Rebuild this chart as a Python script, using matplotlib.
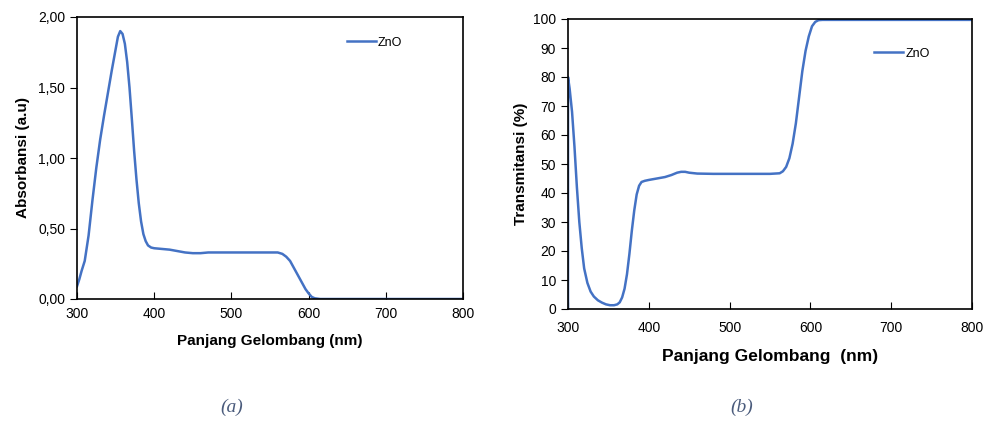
import numpy as np
import matplotlib.pyplot as plt
from matplotlib.ticker import FuncFormatter

# absorbansi ZnO
wl_abs = [300, 303, 306, 310, 315, 320, 325, 330, 335, 340, 345, 350, 353, 356,
          359, 362, 365, 368, 371, 374, 377, 380, 383, 386, 389, 392, 396, 400,
          410, 420, 430, 440, 450, 460, 470, 500, 550, 560, 566, 571, 576, 581,
          586, 591, 596, 600, 604, 608, 615, 700, 800]
absorb = [0.09, 0.14, 0.20, 0.27, 0.45, 0.70, 0.93, 1.13, 1.30, 1.46, 1.62, 1.77,
          1.86, 1.90, 1.88, 1.81, 1.68, 1.50, 1.28, 1.05, 0.85, 0.68, 0.55, 0.46,
          0.41, 0.38, 0.365, 0.36, 0.355, 0.35, 0.34, 0.33, 0.325, 0.325, 0.33,
          0.33, 0.33, 0.33, 0.32, 0.30, 0.27, 0.22, 0.17, 0.12, 0.07, 0.04, 0.015,
          0.005, 0.0, 0.0, 0.0]

# transmitansi ZnO
wl_tr = [300, 300, 302, 305, 308, 311, 314, 317, 320, 324, 328, 332, 337, 342,
         347, 352, 357, 361, 364, 367, 370, 373, 376, 379, 382, 385, 388, 391,
         395, 400, 410, 420, 428, 435, 440, 445, 450, 460, 480, 500, 550, 562,
         566, 570, 574, 578, 582, 586, 590, 594, 598, 602, 606, 610, 615, 700, 800]
trans = [0, 80, 76, 68, 56, 42, 30, 21, 14, 9, 6, 4.3, 3, 2.2, 1.6, 1.3, 1.3,
         1.6, 2.3, 4, 7, 12, 19, 27, 34, 39.5, 42.5, 43.8, 44.2, 44.5, 45, 45.5,
         46.2, 47, 47.3, 47.3, 47, 46.7, 46.6, 46.6, 46.6, 46.8, 47.5, 49, 52,
         57, 64, 73, 82, 89, 94, 97.5, 99, 99.6, 99.7, 99.7, 99.7]

blue = "#4472C4"
plt.rcParams['font.family'] = ['Liberation Sans', 'DejaVu Sans']

fig = plt.figure(figsize=(9.87, 4.21), dpi=100)
W, H = 987, 421

ax1 = fig.add_axes([77 / W, 1 - 299 / H, (463 - 77) / W, (299 - 17) / H])
ax2 = fig.add_axes([568 / W, 1 - 309 / H, (972 - 568) / W, (309 - 19) / H])

ax1.plot(wl_abs, absorb, color=blue, lw=1.8, label="ZnO")
ax1.set_xlim(300, 800)
ax1.set_ylim(0, 2)
ax1.set_xticks(np.arange(300, 801, 100))
ax1.set_yticks(np.arange(0, 2.01, 0.5))
ax1.yaxis.set_major_formatter(FuncFormatter(lambda v, p: f"{v:.2f}".replace(".", ",")))
ax1.set_xlabel("Panjang Gelombang (nm)", fontsize=11, fontweight="bold", labelpad=9)
ax1.set_ylabel("Absorbansi (a.u)", fontsize=11, fontweight="bold", labelpad=6)
ax1.legend(loc="upper left", bbox_to_anchor=(0.67, 0.97), frameon=False,
           fontsize=9, handlelength=2.3, handletextpad=0.2)

ax2.plot(wl_tr, trans, color=blue, lw=1.8, label="ZnO")
ax2.set_xlim(300, 800)
ax2.set_ylim(0, 100)
ax2.set_xticks(np.arange(300, 801, 100))
ax2.set_yticks(np.arange(0, 101, 10))
ax2.set_xlabel("Panjang Gelombang  (nm)", fontsize=12.5, fontweight="bold", labelpad=10)
ax2.set_ylabel("Transmitansi (%)", fontsize=11, fontweight="bold", labelpad=4)
ax2.legend(loc="upper left", bbox_to_anchor=(0.73, 0.94), frameon=False,
           fontsize=9, handlelength=2.3, handletextpad=0.2)

for ax in (ax1, ax2):
    ax.tick_params(axis="x", direction="in", length=5, labelsize=10, pad=6)
    ax.tick_params(axis="y", direction="out", length=5, labelsize=10)
    for s in ax.spines.values():
        s.set_linewidth(1.2)
ax2.tick_params(axis="x", pad=9)

fig.text(232 / W, 1 - 407 / H, "(a)", fontsize=14, style="italic",
         family="Liberation Serif", color="#4a5b7c", ha="center", va="center")
fig.text(742 / W, 1 - 407 / H, "(b)", fontsize=14, style="italic",
         family="Liberation Serif", color="#4a5b7c", ha="center", va="center")

fig.savefig("out.png", dpi=100)
